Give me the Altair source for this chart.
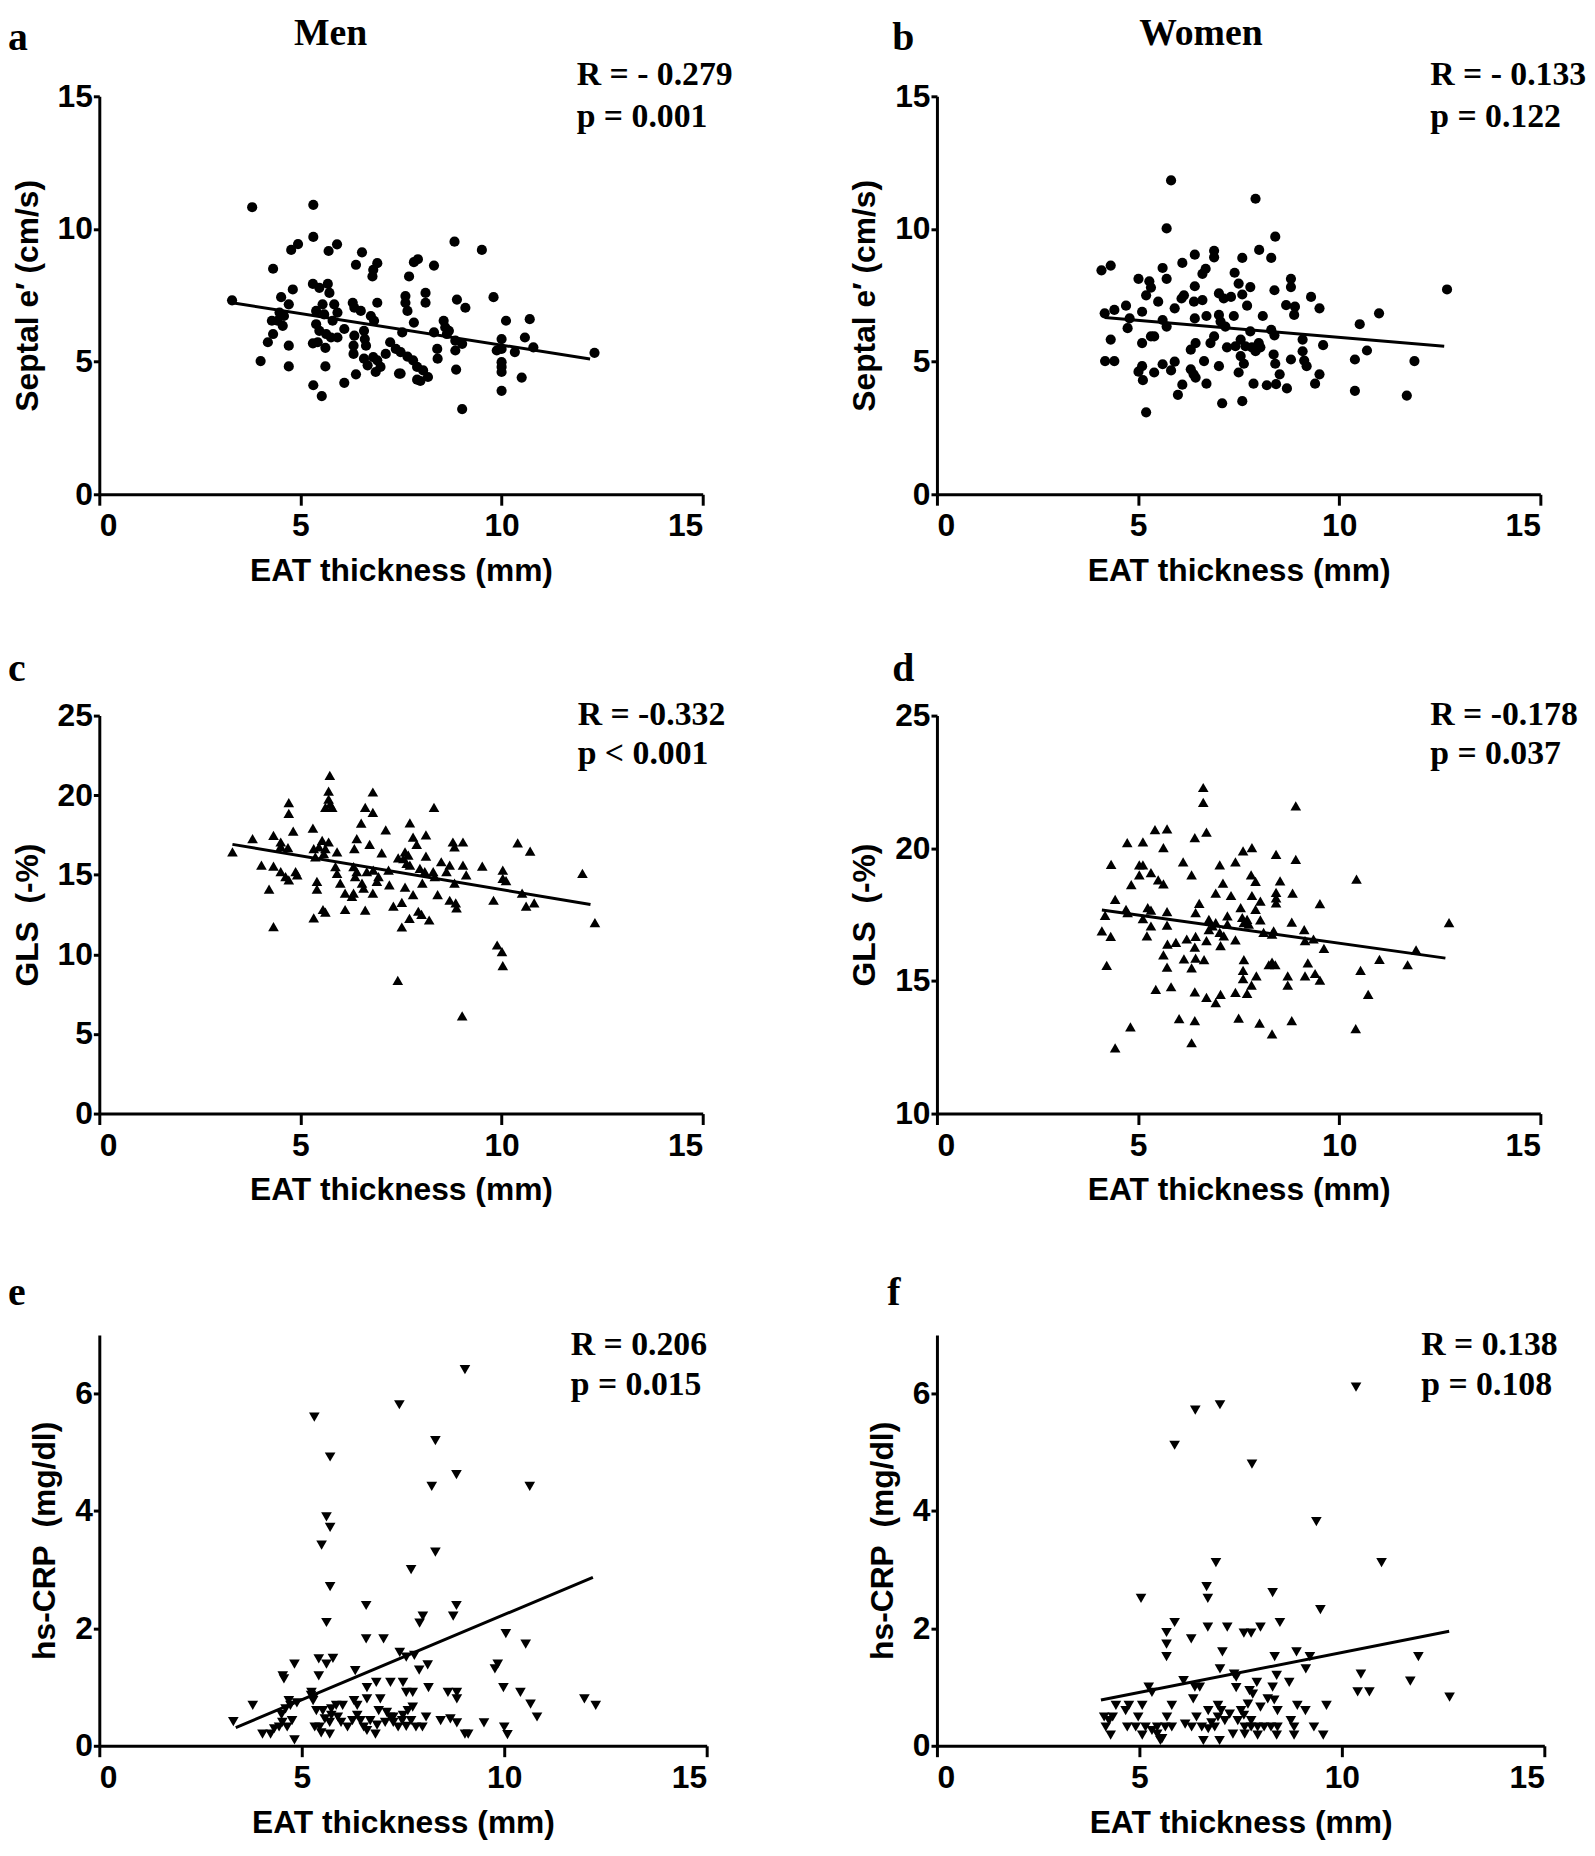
import altair as alt
import pandas as pd

SANS = "Liberation Sans, Arial, sans-serif"
SERIF = "Liberation Serif, Times New Roman, serif"
X_TICKS = [0, 5, 10, 15]
X_TITLE = "EAT thickness (mm)"

# ---------------- panel a : Men, Septal e' ----------------
A_PTS = [(3.80,10.82),(5.32,10.91),(5.32,9.70),(4.77,9.21),(4.94,9.43),(5.70,9.17),(5.91,9.42),(6.53,9.12),(6.38,8.65),
(6.91,8.71),(6.81,8.46),(6.79,8.21),(7.82,8.75),(7.92,8.86),(8.32,8.62),(7.70,8.21),(8.83,9.52),(9.51,9.21),(4.32,8.50),
(4.81,7.72),(4.52,7.43),(4.71,7.16),(4.48,6.85),(4.59,6.72),(4.29,6.54),(4.56,6.35),(4.43,6.54),(3.30,7.31),(4.32,6.04),
(4.19,5.73),(4.01,5.02),(4.71,5.60),(4.71,4.82),(5.31,7.93),(5.47,7.78),(5.68,7.93),(5.72,7.59),(5.84,7.16),(5.55,7.16),
(5.39,6.41),(5.47,6.16),(5.64,6.04),(5.76,5.91),(5.92,5.91),(5.31,5.69),(5.43,5.73),(5.62,5.52),(5.62,4.82),(5.32,4.11),
(5.53,3.70),(5.92,6.85),(6.09,6.23),(6.30,7.22),(6.34,7.03),(6.50,6.91),(6.75,6.72),(6.83,6.54),(6.34,5.98),(6.32,5.60),
(6.32,5.29),(6.58,6.16),(6.60,5.85),(6.63,5.60),(6.58,5.11),(6.81,5.17),(6.67,4.86),(6.09,4.20),(6.38,4.52),(6.91,7.22),
(7.23,5.73),(7.37,5.48),(7.12,5.29),(6.91,5.05),(6.99,4.80),(6.87,4.61),(7.49,5.36),(7.66,5.19),(7.80,5.05),(7.90,4.80),
(8.05,4.67),(8.17,4.42),(7.98,4.27),(7.90,4.32),(7.45,4.55),(7.49,4.55),(7.61,7.47),(7.61,7.22),(7.66,6.91),(7.82,6.47),
(8.11,7.59),(8.11,7.22),(7.53,6.10),(8.56,6.54),(8.60,6.29),(8.69,6.16),(8.89,7.34),(9.10,7.03),(9.80,7.43),(8.85,5.79),
(9.02,5.67),(8.85,5.42),(8.40,5.48),(8.41,5.11),(8.87,4.70),(9.02,3.21),(10.11,6.54),(10.70,6.60),(10.00,5.85),(9.88,5.42),
(10.00,5.48),(10.58,5.91),(10.79,5.54),(10.33,5.36),(10.00,4.98),(10.00,4.80),(10.00,4.61),(10.00,3.90),(10.50,4.40),
(12.31,5.33),(8.32,6.10),(8.64,6.04),(5.39,6.91),(5.59,6.78),(5.80,6.54)]
A_LINE_X = [3.3, 12.2]
A_LINE_Y = [7.22, 5.10]

# ---------------- panel b : Women, Septal e' ----------------
B_PTS = [(5.82,11.83),(7.92,11.14),(5.71,10.02),(8.41,9.71),(8.01,9.21),(8.31,8.91),(7.59,8.91),(4.09,8.44),(4.32,8.62),
(5.01,8.12),(5.28,8.03),(5.32,7.79),(5.20,7.50),(5.61,8.53),(5.71,8.12),(6.10,8.72),(6.41,9.03),(6.89,9.18),(6.89,8.93),
(6.68,8.50),(6.60,8.31),(7.40,8.35),(7.50,7.94),(7.79,7.81),(7.59,7.53),(8.80,8.12),(8.80,7.81),(8.39,7.69),(9.30,7.44),
(9.51,7.01),(8.68,7.13),(8.90,7.07),(8.88,6.76),(10.51,6.41),(10.99,6.82),(6.41,7.84),(6.14,7.50),(6.08,7.38),(6.39,7.26),
(6.60,7.32),(7.01,7.57),(7.13,7.38),(7.31,7.44),(7.71,7.11),(8.10,6.72),(5.50,7.26),(5.91,7.01),(4.70,7.11),(4.41,6.95),
(4.17,6.82),(5.10,6.88),(4.79,6.63),(4.74,6.26),(5.61,6.57),(5.71,6.32),(6.41,6.63),(6.70,6.72),(7.01,6.76),(7.05,6.51),
(7.38,6.72),(7.17,6.32),(7.79,6.14),(8.31,6.20),(8.39,5.99),(4.32,5.83),(5.10,5.70),(5.32,5.95),(5.40,5.95),(6.43,5.70),
(6.31,5.45),(6.89,5.95),(6.80,5.70),(7.21,5.54),(7.42,5.58),(7.55,5.83),(7.67,5.58),(7.83,5.54),(8.00,5.70),(8.04,5.54),
(7.92,5.39),(7.55,5.21),(7.63,4.92),(8.37,5.27),(8.41,4.92),(8.80,5.08),(9.09,5.83),(9.09,5.39),(9.13,5.04),(9.19,4.83),
(9.60,5.62),(10.39,5.08),(10.69,5.42),(11.87,5.02),(4.18,5.02),(4.41,5.02),(5.10,4.83),(5.01,4.62),(5.12,4.30),(5.40,4.59),
(5.61,4.90),(5.82,4.67),(5.91,5.00),(6.31,4.71),(6.38,4.52),(6.43,4.40),(6.64,5.02),(7.01,4.83),(7.50,4.59),(6.70,4.17),
(6.10,4.13),(5.99,3.75),(7.87,4.17),(8.20,4.11),(8.43,4.15),(8.52,4.52),(8.70,3.99),(9.40,4.17),(9.51,4.52),(10.39,3.90),
(11.68,3.72),(5.20,3.09),(7.09,3.43),(7.59,3.51),(12.68,7.72)]
B_LINE_X = [4.17, 12.61]
B_LINE_Y = [6.66, 5.58]

# ---------------- panel c : Men, GLS ----------------
C_PTS = [(5.73,21.25),(5.70,20.26),(5.70,19.75),(5.62,19.23),(5.79,19.23),(5.74,19.44),(4.71,19.54),(4.71,18.86),(6.80,20.20),
(6.61,19.23),(6.80,18.92),(8.32,19.23),(6.51,18.24),(7.72,18.26),(5.31,17.93),(4.82,17.74),(7.12,17.82),(4.33,17.47),
(3.81,17.27),(8.12,17.51),(7.80,17.37),(7.89,16.91),(6.40,17.27),(6.72,16.91),(4.51,17.06),(4.51,16.79),(4.69,16.71),
(5.54,17.16),(5.70,17.06),(5.46,16.75),(5.33,16.64),(5.62,16.64),(5.58,16.33),(5.91,16.44),(5.37,16.13),(6.34,16.64),
(7.02,16.37),(8.79,17.06),(9.04,17.06),(8.83,16.75),(10.40,17.00),(10.71,16.48),(3.31,16.44),(7.60,16.44),(7.68,16.23),
(7.56,16.02),(7.64,15.71),(8.12,16.17),(7.43,16.06),(4.03,15.61),(4.33,15.55),(4.51,15.20),(4.63,14.89),(4.71,14.68),
(4.88,15.20),(4.92,14.99),(5.87,15.51),(5.91,15.09),(5.99,14.47),(6.32,15.51),(6.40,15.20),(6.36,14.89),(6.65,15.20),
(6.81,15.30),(6.94,14.89),(6.90,14.58),(5.41,14.58),(5.41,14.10),(4.22,14.10),(7.19,15.30),(7.21,14.37),(7.72,15.61),
(7.97,15.40),(8.09,15.20),(8.30,15.20),(8.34,14.89),(8.50,15.82),(8.71,15.61),(8.63,15.20),(9.04,15.61),(9.12,14.99),
(9.52,15.55),(10.03,15.30),(10.03,14.78),(10.11,14.64),(8.83,14.47),(8.03,14.47),(7.60,14.22),(6.53,14.47),(6.57,14.16),
(6.11,13.85),(6.32,13.85),(6.28,13.65),(6.80,13.85),(7.80,13.75),(8.41,13.75),(8.71,13.40),(8.86,13.23),(8.88,12.92),
(9.80,13.40),(10.51,13.85),(10.61,13.03),(10.81,13.23),(12.01,15.09),(12.32,11.99),(7.31,13.03),(7.52,13.27),(5.56,12.82),
(5.62,12.65),(5.33,12.30),(6.11,12.82),(6.61,12.78),(7.93,12.71),(8.01,12.51),(7.71,12.26),(8.20,12.16),(7.52,11.72),
(4.33,11.74),(9.89,10.59),(10.01,10.17),(10.03,9.30),(7.42,8.37),(9.02,6.14)]
C_LINE_X = [3.31, 12.21]
C_LINE_Y = [16.91, 13.13]

# ---------------- panel d : Women, GLS ----------------
D_PTS = [(6.62,22.29),(6.62,21.73),(8.92,21.60),(5.42,20.70),(5.72,20.73),(6.41,20.40),(6.70,20.61),(4.73,20.21),(5.12,20.24),
(5.63,20.02),(7.61,19.90),(7.83,20.02),(8.43,19.77),(8.92,19.58),(4.33,19.39),(5.03,19.37),(5.12,19.37),(6.12,19.49),
(7.03,19.37),(7.42,19.49),(5.03,19.00),(5.32,19.08),(6.33,19.00),(5.50,18.81),(5.63,18.66),(4.83,18.63),(7.81,19.00),
(7.92,18.75),(8.53,18.77),(10.43,18.84),(7.11,18.69),(6.93,18.31),(7.31,18.22),(7.83,18.22),(8.04,18.01),(8.43,18.34),
(8.43,18.13),(8.43,17.94),(8.84,18.31),(4.43,18.07),(9.52,17.91),(4.70,17.70),(4.74,17.57),(5.24,17.76),(5.32,17.67),
(5.72,17.61),(6.52,17.92),(6.43,17.57),(7.55,17.76),(7.92,17.70),(8.04,17.30),(4.18,17.47),(5.12,17.35),(5.32,17.07),
(5.72,17.10),(4.10,16.89),(4.32,16.68),(5.22,16.70),(6.76,17.32),(6.85,17.07),(6.93,17.20),(6.76,16.93),(7.22,17.45),
(7.22,17.14),(7.59,17.39),(7.63,17.20),(7.71,17.32),(7.75,17.14),(7.03,16.83),(7.13,16.70),(7.05,16.33),(7.42,16.55),
(8.12,16.83),(8.37,16.89),(8.33,16.76),(8.82,17.22),(9.13,16.93),(9.15,16.52),(9.36,16.58),(9.62,16.23),(11.91,16.17),
(11.00,15.81),(11.70,15.61),(6.21,16.58),(6.43,16.68),(6.70,16.52),(5.73,16.39),(5.94,16.45),(6.41,16.27),(5.63,15.98),
(6.14,15.83),(6.43,15.86),(6.64,15.80),(5.72,15.52),(6.33,15.49),(4.22,15.59),(7.63,15.80),(7.61,15.40),(7.61,15.09),
(7.94,15.19),(8.25,15.61),(8.41,15.61),(8.33,15.71),(9.22,15.68),(9.15,15.19),(9.40,15.28),(9.52,15.03),(8.72,15.19),
(8.72,14.84),(7.82,14.84),(7.71,14.53),(10.53,15.40),(10.72,14.49),(5.44,14.68),(5.82,14.78),(6.41,14.59),(6.70,14.38),
(6.93,14.18),(7.05,14.49),(7.42,14.57),(6.02,13.58),(6.41,13.50),(7.50,13.60),(8.02,13.41),(8.33,13.00),(8.82,13.50),
(10.41,13.20),(4.81,13.27),(6.33,12.67),(4.43,12.48),(12.73,17.20)]
D_LINE_X = [4.10, 12.64]
D_LINE_Y = [17.67, 15.86]

# ---------------- panel e : Men, hs-CRP ----------------
E_PTS = [(9.03,6.41),(7.41,5.81),(5.31,5.60),(8.30,5.20),(5.70,4.92),(8.82,4.62),(8.21,4.42),(10.63,4.42),(5.61,3.90),
(5.70,3.72),(5.49,3.42),(8.30,3.30),(7.70,3.00),(5.70,2.71),(6.59,2.39),(8.82,2.39),(8.74,2.21),(7.99,2.21),(7.91,2.09),
(5.61,2.10),(6.59,1.82),(7.02,1.82),(10.04,1.91),(10.53,1.73),(7.42,1.59),(7.58,1.51),(7.78,1.54),(5.42,1.48),(5.61,1.39),
(5.77,1.49),(4.82,1.39),(4.53,1.19),(4.56,1.14),(5.42,1.19),(6.32,1.28),(7.90,1.29),(8.11,1.38),(9.77,1.31),(9.84,1.39),
(5.24,0.91),(5.30,0.83),(6.61,0.99),(6.84,1.08),(7.19,1.08),(7.50,1.08),(7.58,0.91),(7.74,0.91),(8.13,0.99),(8.61,0.91),
(8.83,0.91),(8.83,0.80),(9.98,0.99),(10.40,0.91),(3.79,0.69),(4.68,0.77),(4.72,0.69),(4.88,0.73),(4.60,0.63),(4.50,0.53),
(5.23,0.86),(5.28,0.77),(5.36,0.60),(5.52,0.60),(5.73,0.63),(5.85,0.69),(6.01,0.69),(6.29,0.77),(6.37,0.69),(6.61,0.80),
(6.94,0.80),(6.90,0.60),(7.10,0.57),(7.26,0.49),(7.50,0.52),(7.62,0.60),(7.74,0.66),(8.07,0.49),(8.43,0.43),(8.67,0.46),
(8.83,0.39),(10.65,0.71),(10.81,0.49),(11.98,0.80),(12.26,0.69),(9.50,0.39),(3.31,0.41),(4.03,0.20),(4.23,0.20),(4.32,0.29),
(4.44,0.32),(4.52,0.40),(4.64,0.32),(4.76,0.43),(4.82,0.10),(5.32,0.32),(5.44,0.32),(5.48,0.22),(5.57,0.46),(5.69,0.40),
(5.73,0.52),(5.89,0.49),(5.97,0.40),(5.69,0.20),(6.13,0.32),(6.25,0.43),(6.37,0.52),(6.45,0.43),(6.53,0.32),(6.61,0.26),
(6.69,0.43),(6.82,0.20),(6.86,0.35),(7.06,0.40),(7.18,0.49),(7.26,0.40),(7.38,0.32),(7.48,0.43),(7.58,0.33),(7.70,0.43),
(7.82,0.32),(7.98,0.32),(9.03,0.20),(9.11,0.20),(10.00,0.32),(10.08,0.19)]
E_LINE_X = [3.37, 12.19]
E_LINE_Y = [0.31, 2.87]

# ---------------- panel f : Women, hs-CRP ----------------
F_PTS = [(10.35,6.11),(6.99,5.81),(6.38,5.72),(5.87,5.12),(7.78,4.80),(9.37,3.82),(10.98,3.12),(6.89,3.12),(6.66,2.71),
(6.69,2.51),(5.04,2.51),(8.29,2.61),(9.47,2.32),(5.87,2.10),(8.47,2.10),(6.69,2.02),(7.17,2.02),(7.58,1.92),(7.76,1.92),
(7.99,2.02),(5.67,1.93),(5.67,1.73),(5.67,1.52),(6.28,1.82),(7.05,1.60),(8.34,1.52),(8.88,1.60),(9.21,1.52),(11.89,1.52),
(11.69,1.10),(10.47,1.22),(10.39,0.92),(10.68,0.92),(12.66,0.83),(9.11,1.31),(6.99,1.31),(7.34,1.22),(5.23,1.00),(5.31,0.91),
(6.09,1.11),(6.37,1.00),(6.33,0.80),(6.49,1.00),(7.39,1.17),(7.39,0.99),(7.72,0.94),(7.80,0.88),(7.90,1.08),(8.39,1.20),
(8.29,1.00),(8.70,1.08),(8.17,0.80),(8.33,0.78),(8.41,0.60),(7.99,0.66),(7.68,0.71),(7.51,0.60),(7.58,0.52),(7.76,0.43),
(6.94,0.69),(7.02,0.60),(6.70,0.60),(7.23,0.54),(8.90,0.69),(9.10,0.60),(9.62,0.69),(4.42,0.69),(4.74,0.69),(5.07,0.69),
(5.80,0.69),(5.68,0.49),(4.13,0.49),(4.25,0.43),(4.34,0.49),(4.17,0.32),(4.66,0.60),(4.97,0.49),(4.70,0.32),(4.91,0.32),
(5.15,0.32),(5.31,0.26),(5.44,0.32),(5.64,0.32),(5.80,0.32),(4.29,0.18),(5.07,0.18),(5.52,0.09),(5.56,0.12),(5.44,0.20),
(6.13,0.37),(6.29,0.32),(6.41,0.49),(6.54,0.32),(6.78,0.39),(6.94,0.49),(7.11,0.43),(6.70,0.29),(6.86,0.32),(6.58,0.09),
(6.98,0.09),(7.31,0.20),(7.43,0.43),(7.60,0.32),(7.76,0.32),(7.92,0.32),(8.08,0.32),(8.25,0.32),(8.41,0.32),(7.60,0.20),
(7.92,0.18),(8.39,0.18),(8.74,0.43),(8.82,0.32),(8.82,0.18),(9.31,0.32),(9.54,0.18)]
F_LINE_X = [4.05, 12.65]
F_LINE_Y = [0.78, 1.95]

# annotation texts
LETTERS = ["a", "b", "c", "d", "e", "f"]
GROUP_TITLES = ["Men", "Women"]
R_TEXTS = ["R = - 0.279", "R = - 0.133", "R = -0.332", "R = -0.178", "R = 0.206", "R = 0.138"]
P_TEXTS = ["p = 0.001", "p = 0.122", "p < 0.001", "p = 0.037", "p = 0.015", "p = 0.108"]
Y_TITLES = ["Septal e\u2032 (cm/s)", "Septal e\u2032 (cm/s)", "GLS\u00a0\u00a0(-%)", "GLS\u00a0\u00a0(-%)",
            "hs-CRP\u00a0 (mg/dl)", "hs-CRP\u00a0 (mg/dl)"]

ANNOT = 34
LETTER_SIZE = 40
GROUP_SIZE = 38


def txt(t, x, y, size, font, align="left"):
    return alt.Chart(pd.DataFrame({"t": [t]})).mark_text(
        align=align, baseline="alphabetic", font=font, fontSize=size,
        fontWeight="bold", color="black"
    ).encode(text="t:N", x=alt.value(x), y=alt.value(y))


def panel(pts, shape, size, ydom, yticks, ytitle, lx, ly, width, height, texts):
    df = pd.DataFrame(pts, columns=["x", "y"])
    xenc = alt.X("x:Q", scale=alt.Scale(domain=[0, 15], nice=False, zero=False),
                 axis=alt.Axis(values=X_TICKS, title=X_TITLE, tickSize=11, format="d",
                               labelPadding=6, titlePadding=14))
    yenc = alt.Y("y:Q", scale=alt.Scale(domain=ydom, nice=False, zero=False),
                 axis=alt.Axis(values=yticks, title=ytitle, tickSize=6, format="d",
                               labelPadding=1, titlePadding=13))
    pts_layer = alt.Chart(df).mark_point(shape=shape, filled=True, color="black",
                                         opacity=1, size=size).encode(x=xenc, y=yenc)
    line = alt.Chart(pd.DataFrame({"x": lx, "y": ly})).mark_line(
        color="black", strokeWidth=3).encode(x="x:Q", y="y:Q")
    return alt.layer(pts_layer, line, *texts).properties(width=width, height=height)


a = panel(A_PTS, "circle", 105, [0, 15], [0, 5, 10, 15], Y_TITLES[0], A_LINE_X, A_LINE_Y, 608, 401, [
    txt(LETTERS[0], -92, -47, LETTER_SIZE, SERIF),
    txt(GROUP_TITLES[0], 233, -52, GROUP_SIZE, SERIF, "center"),
    txt(R_TEXTS[0], 481, -11, ANNOT, SERIF),
    txt(P_TEXTS[0], 481, 31, ANNOT, SERIF)])
b = panel(B_PTS, "circle", 105, [0, 15], [0, 5, 10, 15], Y_TITLES[1], B_LINE_X, B_LINE_Y, 608, 401, [
    txt(LETTERS[1], -45, -47, LETTER_SIZE, SERIF),
    txt(GROUP_TITLES[1], 266, -52, GROUP_SIZE, SERIF, "center"),
    txt(R_TEXTS[1], 497, -11, ANNOT, SERIF),
    txt(P_TEXTS[1], 497, 31, ANNOT, SERIF)])
c = panel(C_PTS, "triangle-up", 115, [0, 25], [0, 5, 10, 15, 20, 25], Y_TITLES[2], C_LINE_X, C_LINE_Y, 608, 401, [
    txt(LETTERS[2], -92, -35, LETTER_SIZE, SERIF),
    txt(R_TEXTS[2], 482, 9, ANNOT, SERIF),
    txt(P_TEXTS[2], 482, 49, ANNOT, SERIF)])
d = panel(D_PTS, "triangle-up", 115, [10, 25], [10, 15, 20, 25], Y_TITLES[3], D_LINE_X, D_LINE_Y, 608, 401, [
    txt(LETTERS[3], -45, -35, LETTER_SIZE, SERIF),
    txt(R_TEXTS[3], 497, 9, ANNOT, SERIF),
    txt(P_TEXTS[3], 497, 49, ANNOT, SERIF)])
e = panel(E_PTS, "triangle-down", 115, [0, 7], [0, 2, 4, 6], Y_TITLES[4], E_LINE_X, E_LINE_Y, 612, 414, [
    txt(LETTERS[4], -92, -30, LETTER_SIZE, SERIF),
    txt(R_TEXTS[4], 475, 20, ANNOT, SERIF),
    txt(P_TEXTS[4], 475, 61, ANNOT, SERIF)])
f = panel(F_PTS, "triangle-down", 115, [0, 7], [0, 2, 4, 6], Y_TITLES[5], F_LINE_X, F_LINE_Y, 612, 414, [
    txt(LETTERS[5], -50, -30, LETTER_SIZE, SERIF),
    txt(R_TEXTS[5], 488, 20, ANNOT, SERIF),
    txt(P_TEXTS[5], 488, 61, ANNOT, SERIF)])

chart = alt.concat(
    a, b, c, d, e, f, columns=2,
    spacing=alt.RowColnumber(row=223, column=232),
    bounds="flush", align="none"
).configure_view(stroke=None).configure_axis(
    grid=False, domainColor="black", domainWidth=3, tickColor="black", tickWidth=3,
    labelFont=SANS, labelFontSize=32, labelFontWeight="bold", labelColor="black",
    titleFont=SANS, titleFontSize=32, titleFontWeight="bold", titleColor="black"
).properties(padding={"left": 0, "top": 0, "right": 0, "bottom": 0})

chart.save("out.html", embed_options={"renderer": "svg", "actions": False})
